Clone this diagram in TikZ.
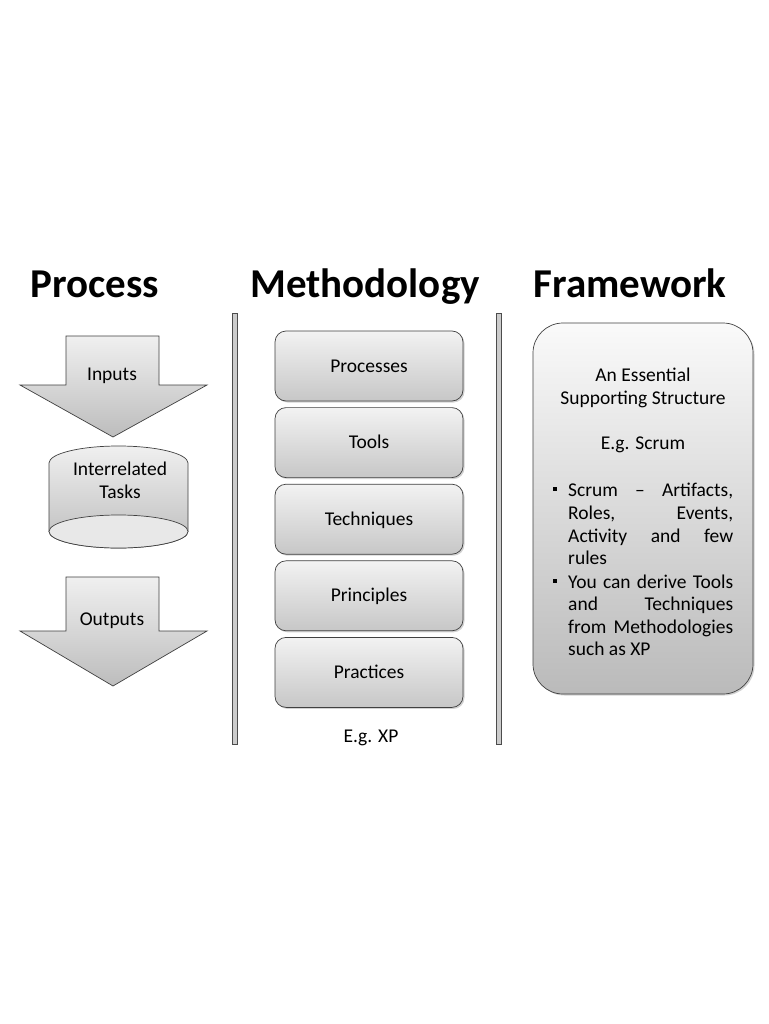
\documentclass[tikz,border=0pt]{standalone}
\usepackage{fontspec}
\setmainfont{Carlito}
\usetikzlibrary{shadows}
\begin{document}
\begin{tikzpicture}[x=1pt,y=-1pt,
  head/.style={font=\fontsize{41}{48}\selectfont\bfseries, anchor=base, inner sep=0pt},
  lbl/.style={font=\fontsize{19.5}{23}\selectfont, anchor=base, inner sep=0pt},
  ln/.style={font=\fontsize{19.5}{23}\selectfont, anchor=base west, inner sep=0pt},
  shape3d/.style={draw=black!75, line width=0.7pt, top color=black!6, bottom color=black!26},
  methbox/.style={draw=black!75, line width=0.7pt, rounded corners=11pt, top color=black!5, bottom color=black!22,
    drop shadow={shadow xshift=1.5pt, shadow yshift=-1.5pt, opacity=0.35}},
  bar/.style={draw=black!70, line width=0.6pt, fill=black!20},
  bul/.style={fill=black, minimum size=3.6pt, inner sep=0pt}
]
\useasboundingbox[fill=white] (0,0) rectangle (768,1024);

% headings
\node[head] (hproc) at (95,297) {Process};
\node[head] (hmeth) at (365,297) {Methodology};
\node[head] (hfram) at (630,297) {Framework};

% separator bars
\draw[bar] (232,313) rectangle (237,744);
\draw[bar] (496,313) rectangle (501,744);

% Inputs arrow
\draw[shape3d] (66,336) -- (159,336) -- (159,385) -- (207,385) -- (113,437) -- (20,385) -- (66,385) -- cycle;
\node[lbl] (inputs) at (112,380) {Inputs};

% Cylinder
\draw[shape3d] (49,463) arc[start angle=180, end angle=360, x radius=69.5, y radius=17]
  -- (188,531.5) arc[start angle=0, end angle=180, x radius=69.5, y radius=16.5] -- cycle;
\draw[draw=black!75, line width=0.7pt, fill=black!9] (118.5,531.5) ellipse[x radius=69.5, y radius=16.5];
\node[lbl] (tasks1) at (120,475) {Interrelated};
\node[lbl] (tasks2) at (120,498) {Tasks};

% Outputs arrow
\draw[shape3d] (66,577) -- (159,577) -- (159,631) -- (207,631) -- (113,686) -- (20,631) -- (66,631) -- cycle;
\node[lbl] (outputs) at (112,625) {Outputs};

% Methodology boxes
\foreach \n/\t [count=\i from 0] in {m1/Processes, m2/Tools, m3/Techniques, m4/Principles, m5/Practices}{
  \pgfmathsetmacro{\ytop}{331+76.6*\i}
  \draw[methbox] (275,\ytop) rectangle (463,\ytop+70);
  \node[lbl] (\n) at (369,\ytop+41) {\t};
}
\node[lbl] (egxp) at (371,742) {E.g. XP};

% Framework box
\draw[draw=black!75, line width=0.7pt, rounded corners=30pt, top color=black!2, bottom color=black!27,
  drop shadow={shadow xshift=1.5pt, shadow yshift=-1.5pt, opacity=0.35}] (533,323) rectangle (753,694);
\node[lbl] (f1) at (643,381) {An Essential};
\node[lbl] (f2) at (643,404) {Supporting Structure};
\node[lbl] (f3) at (643,449) {E.g. Scrum};

\node[bul] (b1) at (555,489) {};
\node[ln] (l1) at (568,496) {\makebox[165pt][s]{Scrum – Artifacts,}};
\node[ln] (l2) at (568,519) {\makebox[165pt][s]{Roles, Events,}};
\node[ln] (l3) at (568,542) {\makebox[165pt][s]{Activity and few}};
\node[ln] (l4) at (568,564) {rules};

\node[bul] (b2) at (555,581) {};
\node[ln] (l5) at (568,588) {\makebox[165pt][s]{You can derive Tools}};
\node[ln] (l6) at (568,610) {\makebox[165pt][s]{and Techniques}};
\node[ln] (l7) at (568,633) {\makebox[165pt][s]{from Methodologies}};
\node[ln] (l8) at (568,655) {such as XP};
\end{tikzpicture}
\end{document}
